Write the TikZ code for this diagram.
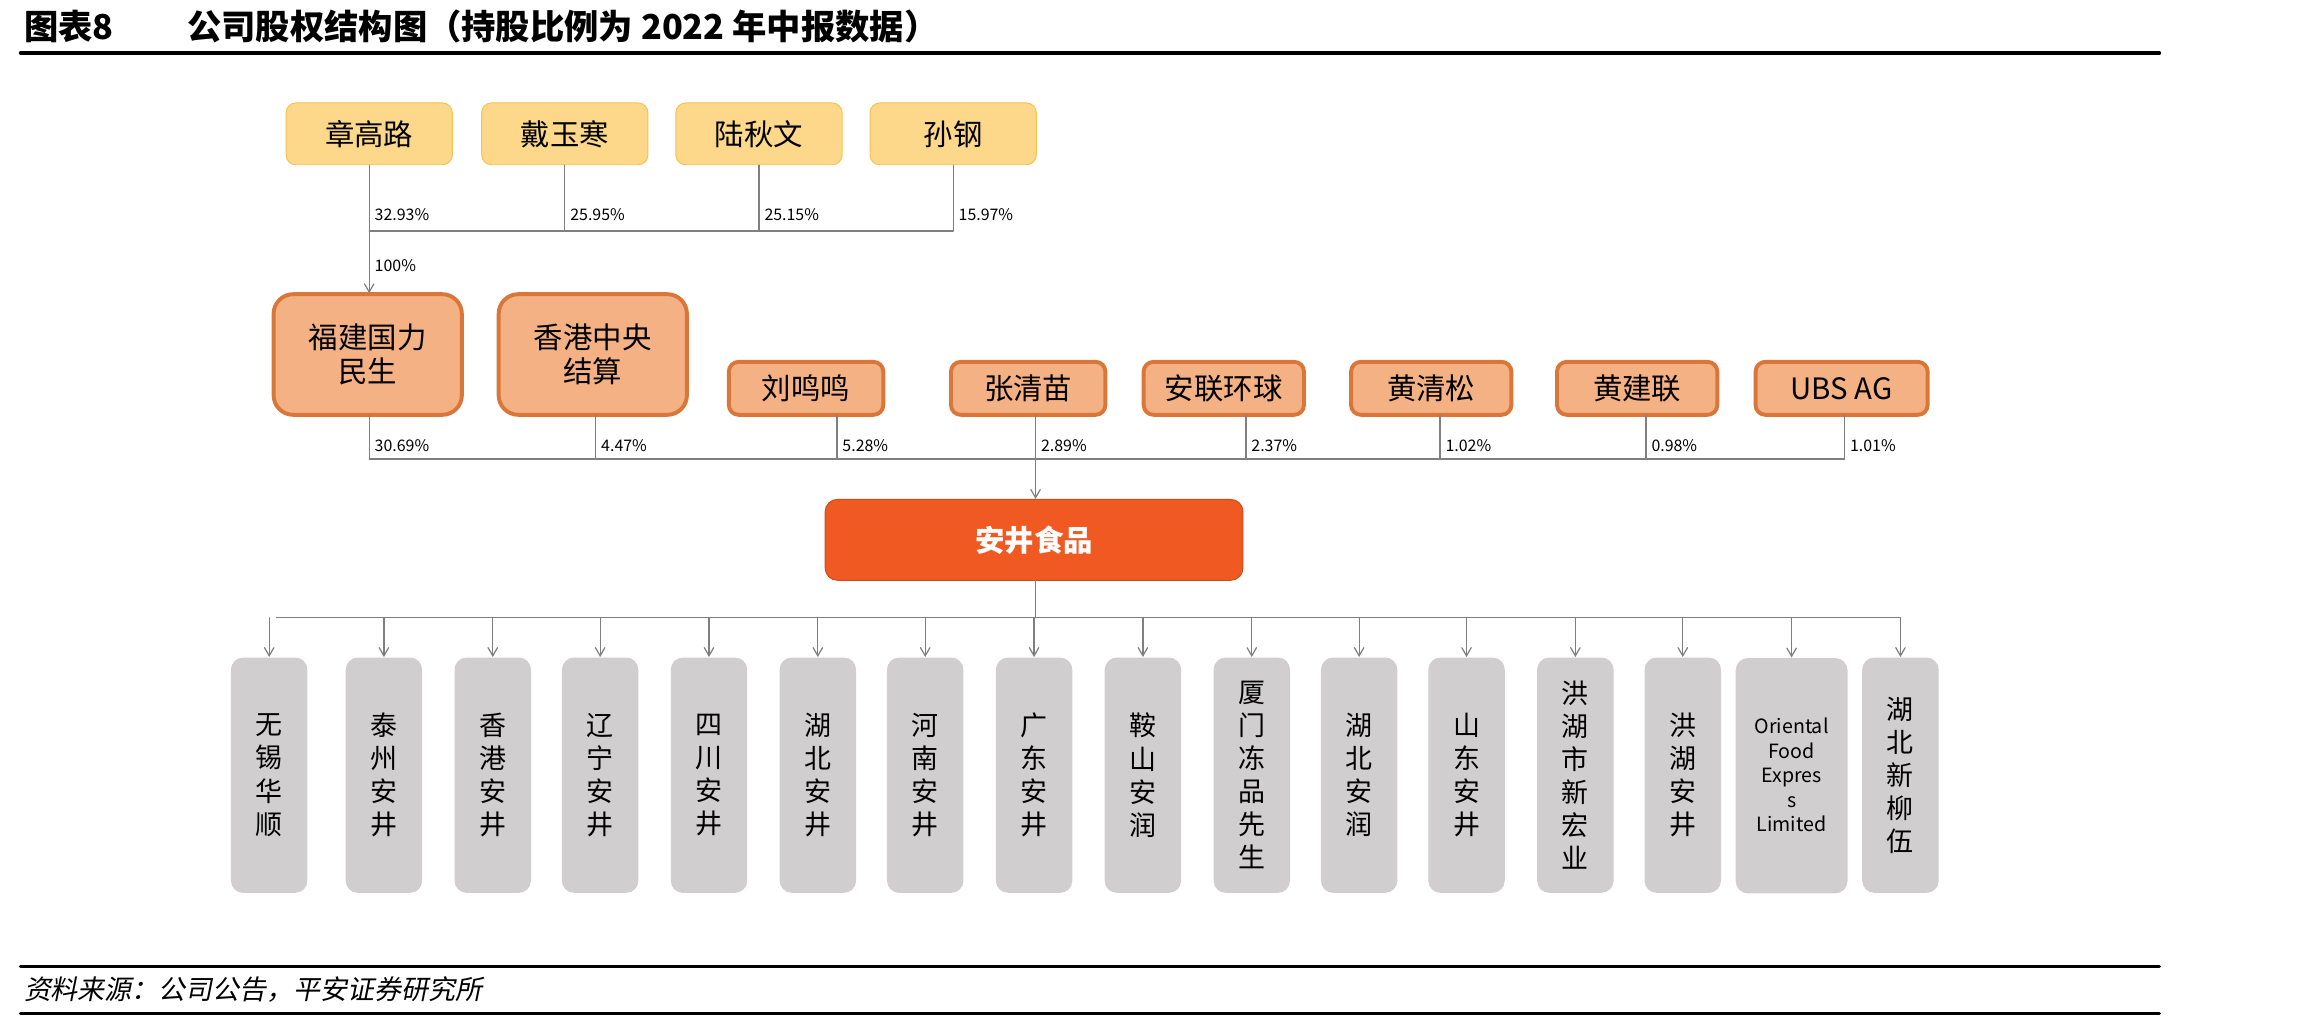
\documentclass[tikz,border=0pt]{standalone}
\usepackage{fontspec}
\setmainfont{Noto Sans CJK SC}
\newfontfamily\slfont[FakeSlant=0.2]{Noto Sans CJK SC}
\usetikzlibrary{arrows}
\definecolor{topfill}{HTML}{FDD88A}
\definecolor{topdraw}{HTML}{F7C24F}
\definecolor{midfill}{HTML}{F4B183}
\definecolor{middraw}{HTML}{D9773A}
\definecolor{mainfill}{HTML}{F05A22}
\definecolor{subfill}{HTML}{D0CECE}
\definecolor{linegray}{HTML}{7F7F7F}
\tikzset{
  person/.style={draw=topdraw,fill=topfill,rounded corners=4pt,minimum width=113*0.6pt,minimum height=42*0.6pt,font=\fontsize{12}{14}\selectfont},
  holder/.style={draw=middraw,fill=midfill,rounded corners=4pt,line width=0.8pt,double=midfill,double distance=0pt,font=\fontsize{12}{14}\selectfont},
  sub/.style={fill=subfill,rounded corners=5pt,minimum width=52*0.6pt,minimum height=160*0.6pt,align=center,font=\fontsize{11}{13.5}\selectfont},
  pct/.style={font=\fontsize{6.5}{8}\selectfont,anchor=west,inner sep=2pt},
  link/.style={draw=linegray,line width=0.5pt},
}
\begin{document}
\begin{tikzpicture}[line cap=round,line join=round,>=angle 60,x=0.6pt,y=-0.6pt]
    \useasboundingbox (0,0) rectangle (1565,694);
    % title and rules
    \node[anchor=west,font=\fontsize{14}{16}\selectfont\bfseries,inner sep=0] (title) at (16,18) {图表8\hspace{30pt}公司股权结构图（持股比例为 2022 年中报数据）};
    \draw [line width=1.5pt] (14,36) -- (1468,36);
    \draw [line width=1.5pt] (14,657) -- (1468,657);
    \draw [line width=1.5pt] (14,689) -- (1468,689);
    \node[anchor=west,font=\fontsize{11}{13}\slfont,inner sep=0] (source) at (16,673) {资料来源：公司公告，平安证券研究所};
    % top shareholders
    \node[person] (zhang) at (251,91) {章高路};
    \node[person] (dai) at (384,91) {戴玉寒};
    \node[person] (lu) at (516,91) {陆秋文};
    \node[person] (sun) at (648,91) {孙钢};
    \coordinate (topbus) at (251,157);
    \coordinate (topbusR) at (648,157);
    \draw [link] (topbus) -- (topbusR);
    \foreach \p/\v in {zhang/32.93\%,dai/25.95\%,lu/25.15\%,sun/15.97\%}{
      \draw [link] (\p.south) -- (\p.south |- topbus) node[pct,pos=0.75] {\v};
    }
    % second row
    \node[holder,minimum width=128*0.6pt,minimum height=82*0.6pt,align=center,rounded corners=8pt] (fujian) at (250,241) {福建国力\\民生};
    \node[holder,minimum width=128*0.6pt,minimum height=82*0.6pt,align=center,rounded corners=8pt] (hkscc) at (403,241) {香港中央\\结算};
    \draw [link,->] (topbus) -- (fujian.north -| topbus) node[pct,pos=0.55] {100\%};
    \node[holder,minimum width=105*0.6pt,minimum height=36*0.6pt] (liu) at (548,264) {刘鸣鸣};
    \node[holder,minimum width=105*0.6pt,minimum height=36*0.6pt] (zhangqm) at (699,264) {张清苗};
    \node[holder,minimum width=109*0.6pt,minimum height=36*0.6pt] (anlian) at (832,264) {安联环球};
    \node[holder,minimum width=109*0.6pt,minimum height=36*0.6pt] (huangqs) at (973,264) {黄清松};
    \node[holder,minimum width=109*0.6pt,minimum height=36*0.6pt] (huangjl) at (1113,264) {黄建联};
    \node[holder,minimum width=117*0.6pt,minimum height=36*0.6pt] (ubs) at (1252,264) {UBS AG};
    \coordinate (midbusL) at (251,312);
    \coordinate (midbusR) at (1254,312);
    \draw [link] (midbusL) -- (midbusR);
    \foreach \p/\xx/\v in {fujian/251/30.69\%,hkscc/405/4.47\%,liu/569/5.28\%,zhangqm/704/2.89\%,anlian/847/2.37\%,huangqs/979/1.02\%,huangjl/1119/0.98\%,ubs/1254/1.01\%}{
      \draw [link] (\xx,0 |- \p.south) -- (\xx,312) node[pct,pos=0.7] {\v};
    }
    % company
    \node[fill=mainfill,draw=mainfill!85!black,rounded corners=5pt,minimum width=284*0.6pt,minimum height=55*0.6pt,text=white,font=\fontsize{12}{14}\selectfont\bfseries] (anjoy) at (703,367) {安井食品};
    \draw [link,->] (704,312) -- (anjoy.north -| 704,0);
    % subsidiaries
    \coordinate (subbus) at (704,420);
    \draw [link] (anjoy.south -| subbus) -- (subbus);
    \draw [link] (188,420) -- (1292,420);
    \foreach \i/\xx/\t in {1/183/无\\锡\\华\\顺,2/261/泰\\州\\安\\井,3/335/香\\港\\安\\井,4/408/辽\\宁\\安\\井,5/482/四\\川\\安\\井,6/556/湖\\北\\安\\井,7/629/河\\南\\安\\井,8/703/广\\东\\安\\井,9/777/鞍\\山\\安\\润,10/851/厦\\门\\冻\\品\\先\\生,11/924/湖\\北\\安\\润,12/997/山\\东\\安\\井,13/1071/洪\\湖\\市\\新\\宏\\业,14/1144/洪\\湖\\安\\井,16/1292/湖\\北\\新\\柳\\伍}{
      \node[sub] (s\i) at (\xx,527) {\t};
      \draw [link,->] (\xx,420) -- (s\i.north);
    }
    \node[sub,minimum width=76*0.6pt,font=\fontsize{8}{10}\selectfont,anchor=north] (s15) at (1218,447) {\\[-4pt]Oriental\\Food\\Expres\\s\\Limited};
    \draw [link,->] (1218,420) -- (s15.north);
\end{tikzpicture}
\end{document}
